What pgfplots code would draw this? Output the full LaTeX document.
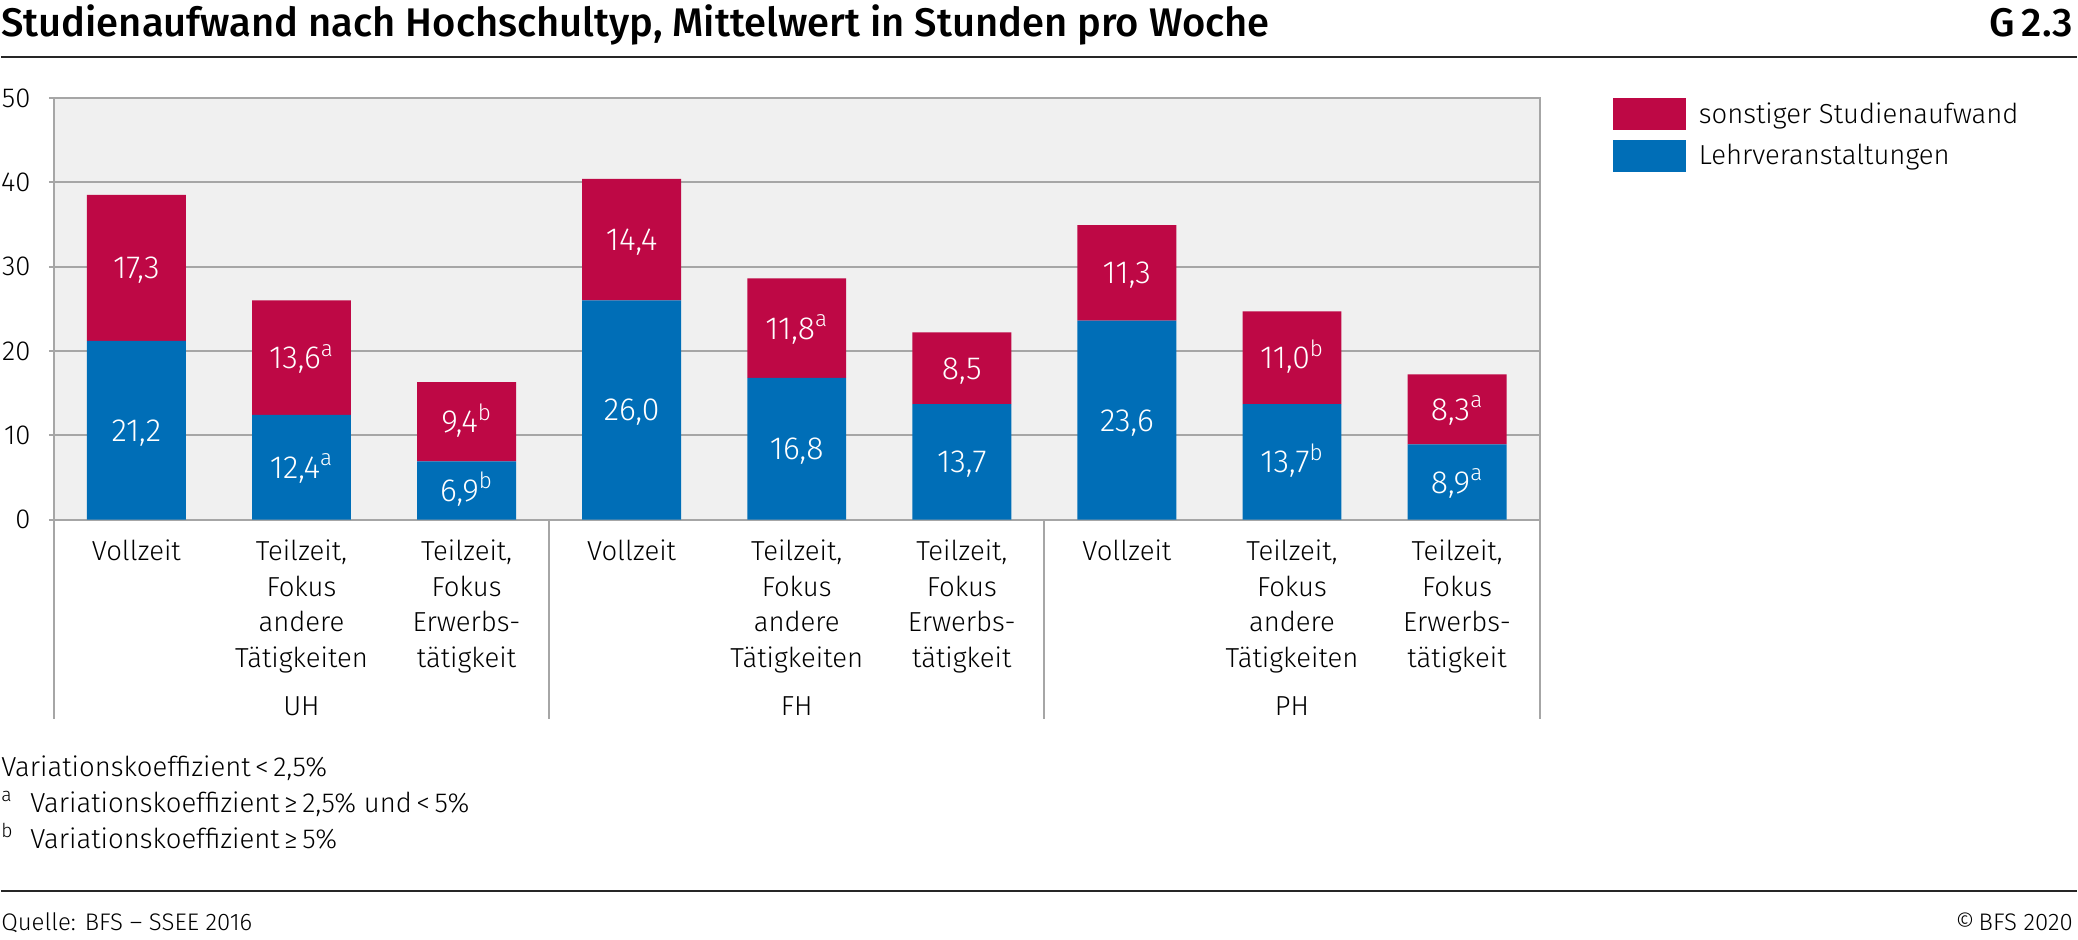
\documentclass[border=0pt]{standalone}
\usepackage{fontspec}
\setmainfont{Fira Sans Light}[BoldFont={Fira Sans Medium}]
\newfontfamily\titlefont{Fira Sans Medium}
\usepackage{pgfplots}
\pgfplotsset{compat=1.18}
\usepackage{pgfplotstable}
\definecolor{bred}{HTML}{BE0845}
\definecolor{bblue}{HTML}{006EB7}
\definecolor{bgback}{HTML}{F0F0F0}
\definecolor{lgray}{HTML}{A6A6A6}
\newcommand{\supa}{\textsuperscript{a}}
\newcommand{\supb}{\textsuperscript{b}}
\newcommand{\lab}{\fontsize{13.75}{17.75}\selectfont}
\newcommand{\barlab}{\fontsize{16}{18}\selectfont}
\newcommand{\supmark}[1]{\ifdim#1pt>1.5pt\supb\else\ifdim#1pt>0.5pt\supa\fi\fi}

% s: superscript marker (0 = none, 1 = a, 2 = b)
\pgfplotstableread{
x y s
0 21.2 0
1 12.4 1
2 6.9 2
3 26.0 0
4 16.8 0
5 13.7 0
6 23.6 0
7 13.7 2
8 8.9 1
}\lehr
\pgfplotstableread{
x y s
0 17.3 0
1 13.6 1
2 9.4 2
3 14.4 0
4 11.8 1
5 8.5 0
6 11.3 0
7 11.0 2
8 8.3 1
}\sonst

\begin{document}
\begin{tikzpicture}
\path (0,0) rectangle (1039pt,470pt);
\node[anchor=base west, inner sep=0pt, font=\titlefont\fontsize{20}{22}\selectfont] at (0,451.5pt) {Studienaufwand nach Hochschultyp, Mittelwert in Stunden pro Woche};
\node[anchor=base east, inner sep=0pt, font=\titlefont\fontsize{20}{22}\selectfont] at (1037pt,451.5pt) {G\,2.3};
\draw[line width=0.9pt, black!85] (0,441.5pt) -- (1039pt,441.5pt);

\begin{axis}[
  at={(26.5pt,210pt)}, anchor=south west,
  width=743.5pt, height=211pt, scale only axis,
  xmin=-0.5, xmax=8.5, ymin=0, ymax=50,
  ybar stacked, bar width=49.5pt,
  clip=false,
  axis background/.style={fill=bgback},
  axis line style={lgray, line width=1pt},
  ytick={0,10,20,30,40,50},
  ymajorgrids, grid style={lgray, line width=1pt},
  ytick pos=left, tick align=outside, major tick length=2.5pt,
  ytick style={lgray, line width=1pt},
  /pgf/number format/assume math mode=true,
  yticklabel style={font=\lab, inner sep=0pt, anchor=east, xshift=-9pt},
  xtick={0,1,2,3,4,5,6,7,8}, xtick style={draw=none},
  xticklabels={Vollzeit, {Teilzeit,\\Fokus\\andere\\Tätigkeiten}, {Teilzeit,\\Fokus\\Erwerbs-\\tätigkeit},
               Vollzeit, {Teilzeit,\\Fokus\\andere\\Tätigkeiten}, {Teilzeit,\\Fokus\\Erwerbs-\\tätigkeit},
               Vollzeit, {Teilzeit,\\Fokus\\andere\\Tätigkeiten}, {Teilzeit,\\Fokus\\Erwerbs-\\tätigkeit}},
  xticklabel style={align=center, font=\lab, inner sep=0pt, anchor=north, yshift=-7.5pt},
  legend style={at={(1,1)}, anchor=north west, xshift=33.5pt, yshift=2pt, draw=none, fill=none,
    font=\lab, row sep=5pt},
  legend cell align=left,
  reverse legend,
  legend image code/.code={\fill[#1] (0pt,-8pt) rectangle (36.5pt,8pt); \path (41pt,0pt);},
  nodes near coords={\pgfmathprintnumber[fixed, fixed zerofill, precision=1, use comma]{\pgfplotspointmeta}\supmark{\supcode}},
  point meta=\thisrow{y},
  visualization depends on={\thisrow{s} \as \supcode},
  every node near coord/.append style={white, font=\barlab, anchor=base, inner sep=0pt,
     yshift=-5.5pt},
]
\addplot[fill=bblue, draw=none] table[x=x, y=y] {\lehr};
\addplot[fill=bred, draw=none] table[x=x, y=y] {\sonst};
\legend{Lehrveranstaltungen, sonstiger Studienaufwand}

\draw[lgray, line width=1pt] (axis cs:-0.5,0) -- ([yshift=-100pt]axis cs:-0.5,0);
\draw[lgray, line width=1pt] (axis cs:2.5,0) -- ([yshift=-100pt]axis cs:2.5,0);
\draw[lgray, line width=1pt] (axis cs:5.5,0) -- ([yshift=-100pt]axis cs:5.5,0);
\draw[lgray, line width=1pt] (axis cs:8.5,0) -- ([yshift=-100pt]axis cs:8.5,0);
\node[anchor=base, inner sep=0pt, font=\lab] at ([yshift=-98pt]axis cs:1,0) {UH};
\node[anchor=base, inner sep=0pt, font=\lab] at ([yshift=-98pt]axis cs:4,0) {FH};
\node[anchor=base, inner sep=0pt, font=\lab] at ([yshift=-98pt]axis cs:7,0) {PH};
\end{axis}

\node[anchor=base west, inner sep=0pt, font=\lab] at (0,81.5pt) {Variationskoeffizient\,<\,2,5\%};
\node[anchor=base west, inner sep=0pt, font=\lab] at (0,63.5pt) {\supa};
\node[anchor=base west, inner sep=0pt, font=\lab] at (14.5pt,63.5pt) {Variationskoeffizient\,≥\,2,5\% und\,<\,5\%};
\node[anchor=base west, inner sep=0pt, font=\lab] at (0,45.5pt) {\supb};
\node[anchor=base west, inner sep=0pt, font=\lab] at (14.5pt,45.5pt) {Variationskoeffizient\,≥\,5\%};
\draw[line width=0.9pt, black!85] (0,24pt) -- (1039pt,24pt);
\node[anchor=base west, inner sep=0pt, font=\fontsize{12}{14}\selectfont] at (0,4.5pt) {Quelle: BFS – SSEE 2016};
\node[anchor=base east, inner sep=0pt, font=\fontsize{12}{14}\selectfont] at (1037pt,4.5pt) {©\,BFS 2020};
\end{tikzpicture}
\end{document}
